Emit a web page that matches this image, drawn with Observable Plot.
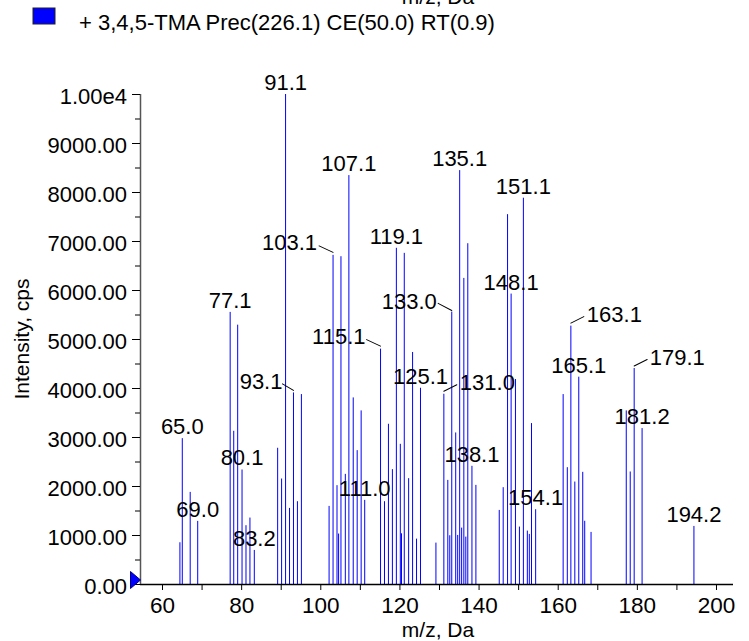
<!DOCTYPE html>
<html><head><meta charset="utf-8">
<script src="https://cdn.jsdelivr.net/npm/d3@7"></script>
<script src="https://cdn.jsdelivr.net/npm/@observablehq/plot@0.6"></script>
<style>
body{margin:0;background:#fff;font-family:Arial,"Liberation Sans",sans-serif;}
#wrap{position:relative;width:749px;height:641px;overflow:hidden;background:#fff;}
#chart{position:absolute;left:0;top:0;}
#overlay{position:absolute;left:0;top:0;pointer-events:none;font-family:Arial,"Liberation Sans",sans-serif;}
</style></head><body>
<div id="wrap"><div id="chart"></div>
<svg id="overlay" width="749" height="641">
  <text x="438" y="4" text-anchor="middle" font-size="21">m/z, Da</text>
  <rect x="33" y="8" width="22" height="16" fill="#0000ff" stroke="#222" stroke-width="1"></rect>
  <text x="79" y="29.5" font-size="22">+ 3,4,5-TMA Prec(226.1) CE(50.0) RT(0.9)</text>
  <text x="438" y="637" text-anchor="middle" font-size="21">m/z, Da</text>
  <text transform="translate(29,339) rotate(-90)" text-anchor="middle" font-size="21">Intensity, cps</text>
</svg></div>
<script>
// Peak m/z values (Da)
const mz = [64.4, 65.0, 67.0, 68.9, 77.1, 78.0, 79.0, 80.1, 81.1, 82.1, 83.2,
  89.1, 90.1, 91.1, 92.1, 93.1, 94.1, 95.1,
  102.1, 103.1, 104.1, 104.5, 105.1, 106.2, 107.1, 108.2, 109.2, 110.2, 111.1,
  115.1, 116.1, 117.1, 118.1, 119.1, 120.1, 120.4, 121.1, 122.2, 123.2, 124.2, 125.2,
  129.1, 131.1, 132.1, 132.6, 133.1, 134.1, 134.6, 135.1, 135.6, 136.15, 136.65, 137.15, 138.2, 139.2,
  145.1, 146.1, 147.2, 148.1, 149.2, 150.2, 151.2, 152.2, 152.7, 153.25, 154.3,
  161.25, 162.3, 163.2, 164.2, 165.2, 166.2, 166.7, 168.3,
  177.2, 178.2, 179.2, 181.2, 194.3];
// Peak intensities (cps)
const intensity = [852, 2977, 1880, 1288, 5553, 3127, 5293, 2337, 1200, 1356, 695,
  2780, 2153, 10000, 1553, 3910, 1690, 3876,
  1594, 6717, 2017, 1030, 6690, 2248, 8345, 3808, 2732, 3543, 1717,
  4803, 1690, 3270, 2344, 6861, 2861, 1035, 6758, 2160, 4735, 926, 4005,
  845, 3883, 2125, 995, 5560, 3093, 1001, 8447, 1151, 6247, 967, 6955, 2412, 2023,
  1512, 1976, 7548, 5927, 4183, 1172, 7883, 1090, 1022, 3284, 1526,
  3876, 2384, 5273, 2091, 4231, 2289, 1290, 1063,
  3543, 2296, 4408, 3182, 1185];

// Peak annotations
const labelText = ["65.0","69.0","77.1","80.1","83.2","91.1","93.1","103.1","107.1","111.0","115.1","119.1","125.1",
  "131.0","133.0","135.1","138.1","148.1","151.1","154.1","163.1","165.1","179.1","181.2","194.2"];
const labelPeak = [65.0, 68.9, 77.1, 80.1, 83.2, 91.1, 93.1, 103.1, 107.1, 111.1, 115.1, 119.1, 125.2,
  131.1, 133.1, 135.1, 138.2, 148.1, 151.2, 154.3, 163.2, 165.2, 179.2, 181.2, 194.3];

// Axis ticks
const xMajor = [60, 80, 100, 120, 140, 160, 180, 200];
const xMinor = [70, 90, 110, 130, 150, 170, 190];
const yMajor = [0, 1000, 2000, 3000, 4000, 5000, 6000, 7000, 8000, 9000, 10000];
const yMajorLabels = ["0.00","1000.00","2000.00","3000.00","4000.00","5000.00","6000.00","7000.00","8000.00","9000.00","1.00e4"];
const yMinor = [500, 1500, 2500, 3500, 4500, 5500, 6500, 7500, 8500, 9500];

const xDomain = [54.44, 204.3];
const yDomain = [0, 10000];

const peaks = mz.map((m, i) => ({mz: m, v: intensity[i]}));
const vOf = new Map(peaks.map(p => [p.mz, p.v]));
const labels = labelText.map((t, i) => ({text: t, mz: labelPeak[i], v: vOf.get(labelPeak[i])}));
const yLab = new Map(yMajor.map((v, i) => [v, yMajorLabels[i]]));

// label placement (pixel offsets): side, dx, dy
const place = {
  "93.1": {side: "left", dx: -11, dy: -4.4, len: 12.8, rot: -59.4, ldy: -2.5},
  "103.1": {side: "left", dx: -16, dy: -5.3, len: 15.4, rot: -65, ldy: -3},
  "115.1": {side: "left", dx: -15, dy: -4.7, len: 15.4, rot: -65, ldy: -3},
  "133.0": {side: "left", dx: -15, dy: -3, len: 15.4, rot: -62, ldy: -1.5},
  "131.0": {side: "right", dx: 16, dy: -4.7, len: 14.5, rot: 63.4, ldy: -3},
  "163.1": {side: "right", dx: 16, dy: -4.3, len: 14.5, rot: 63.4, ldy: -3},
  "179.1": {side: "right", dx: 15.6, dy: -4, len: 14.5, rot: 63.4, ldy: -2.5}
};
const leaderShape = {draw(ctx, l) { ctx.moveTo(0, 0); ctx.lineTo(0, -l); }};
const triShape = {draw(ctx) { ctx.moveTo(-5, -8.5); ctx.lineTo(5, 0); ctx.lineTo(-5, 8.5); ctx.closePath(); }};

const centered = labels.filter(d => !place[d.text]);
const labelMarks = [
  Plot.text(centered, {x: "mz", y: "v", text: "text", textAnchor: "middle", lineAnchor: "bottom", dy: -4.5, fontSize: 22, fill: "black"})
];
for (const d of labels.filter(d => place[d.text])) {
  const p = place[d.text];
  labelMarks.push(Plot.text([d], {x: "mz", y: "v", text: "text", textAnchor: p.side === "left" ? "end" : "start",
    lineAnchor: "bottom", dx: p.dx, dy: p.dy, fontSize: 22, fill: "black"}));
  labelMarks.push(Plot.vector([d], {x: "mz", y: "v", length: p.len, rotate: p.rot, anchor: "start",
    shape: leaderShape, dy: p.ldy, stroke: "black", strokeWidth: 1}));
}

const chart = Plot.plot({
  width: 749, height: 641,
  marginLeft: 140, marginRight: 16, marginTop: 94, marginBottom: 57,
  style: {fontFamily: "Arial, 'Liberation Sans', sans-serif", color: "black", background: "transparent", overflow: "visible"},
  x: {domain: xDomain, label: null},
  y: {domain: yDomain, label: null},
  marks: [
    Plot.ruleX(peaks, {x: "mz", y1: 0, y2: "v", stroke: "#0000ff", strokeWidth: 1}),
    Plot.ruleY([0], {stroke: "black", strokeWidth: 1.5}),
    Plot.ruleX([xDomain[0]], {y1: yDomain[0], y2: yDomain[1], stroke: "#555", strokeWidth: 1.5}),
    Plot.axisX(xMajor, {tickSize: 6, tickPadding: 7, tickFormat: d => String(d), fontSize: 22.5, label: null}),
    Plot.axisX(xMinor, {tickSize: 6, tickFormat: () => "", label: null}),
    Plot.axisY(yMajor, {tickSize: 8, tickFormat: () => "", label: null}),
    Plot.axisY(yMinor, {tickSize: 5, tickFormat: () => "", label: null}),
    Plot.axisY(yMajor, {tickSize: 0, tickPadding: 13.5, dy: 2, tickFormat: d => yLab.get(d), fontSize: 22, label: null}),
    ...labelMarks,
    Plot.dot([{mz: xDomain[0], v: 0}], {x: "mz", y: "v", symbol: triShape, r: 6, fill: "#0000ff", stroke: "#000080", strokeWidth: 1, dx: -5, dy: -4.5})
  ]
});
document.getElementById("chart").appendChild(chart);
</script>
</body></html>
